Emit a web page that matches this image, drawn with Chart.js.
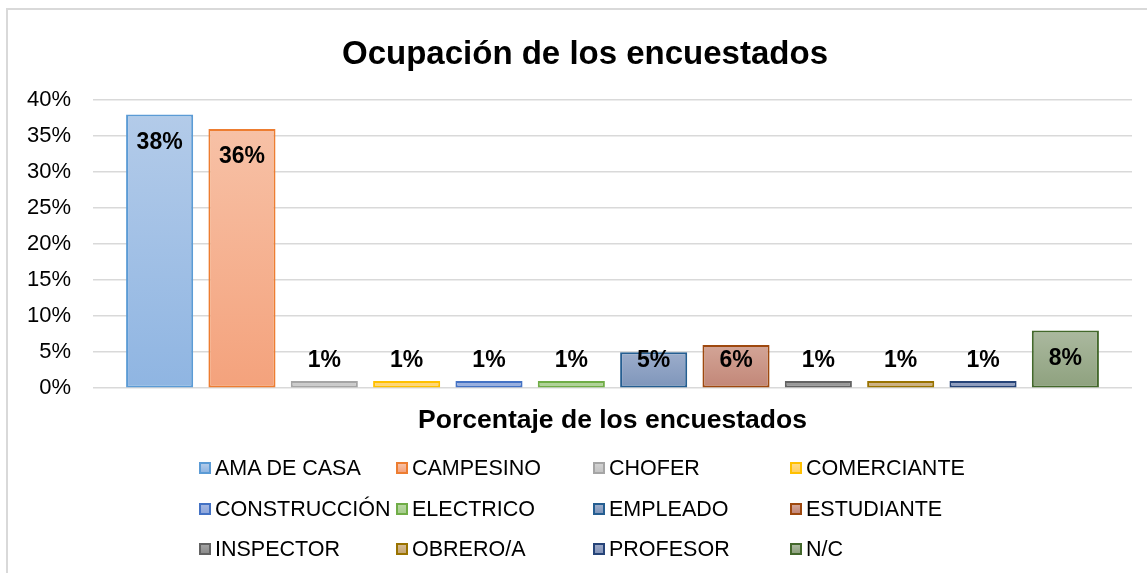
<!DOCTYPE html>
<html>
<head>
<meta charset="utf-8">
<script src="https://cdn.jsdelivr.net/npm/chart.js@4.4.1/dist/chart.umd.min.js"></script>
<style>
    html, body { margin: 0; padding: 0; background: #fff; overflow: hidden; }
    #wrap { position: relative; width: 1147px; height: 573px; overflow: hidden; }
    #frame { position: absolute; left: 6px; top: 8px; width: 1300px; height: 800px; border: 2px solid #d9d9d9; box-sizing: border-box; }
    #chartBox { position: absolute; left: 0; top: 0; width: 1147px; height: 573px; }
    #legend { position: absolute; left: 0; top: 0; width: 1147px; height: 573px; font-family: "Liberation Sans", Arial, sans-serif; font-size: 21.5px; color: #000; }
    .item { position: absolute; display: flex; align-items: center; white-space: nowrap; height: 24px; }
    .key { width: 8px; height: 8px; border: 2px solid; margin-right: 4px; }
</style>
</head>
<body>
<div id="wrap">
    <div id="frame"></div>
    <div id="chartBox"><canvas id="ocupacionChart"></canvas></div>
    <div id="legend"></div>
</div>
<script>
// Data
const categories = ['AMA DE CASA', 'CAMPESINO', 'CHOFER', 'COMERCIANTE', 'CONSTRUCCIÓN', 'ELECTRICO',
    'EMPLEADO', 'ESTUDIANTE', 'INSPECTOR', 'OBRERO/A', 'PROFESOR', 'N/C'];
const percentages = [38, 36, 1, 1, 1, 1, 5, 6, 1, 1, 1, 8];
const groupLabels = ['Porcentaje de los encuestados'];
const yMin = 0;
const yMax = 40;
const yStep = 5;

// Excel-like gradient fills: top, bottom, border
const fillTop = ['#b3cbe9', '#f7c1a6', '#d2d2d2', '#ffdb86', '#a3b6e1', '#b8d7a2', '#9cadcb', '#d3a597', '#a3a3a3', '#d4ba92', '#9aa7c7', '#abb99f'];
const fillBottom = ['#8fb5e2', '#f4a27c', '#c3c3c3', '#ffcf62', '#8da6dc', '#a6cd8c', '#7e95ba', '#c28677', '#8c8c8c', '#c5a673', '#8393b8', '#8ea17e'];
const borderColors = ['#5b9bd5', '#ed7d31', '#a5a5a5', '#ffc000', '#4472c4', '#70ad47', '#255e91', '#9e480e', '#636363', '#997300', '#264478', '#43682b'];

const FONT = '"Liberation Sans", Arial, sans-serif';

function barFill(context) {
    const chart = context.chart;
    const i = context.datasetIndex;
    if (!chart.chartArea || !chart.scales.y) {
        return fillBottom[i];
    }
    const top = chart.scales.y.getPixelForValue(context.raw);
    const base = chart.scales.y.getPixelForValue(0);
    const g = chart.ctx.createLinearGradient(0, top, 0, base);
    g.addColorStop(0, fillTop[i]);
    g.addColorStop(1, fillBottom[i]);
    return g;
}

// Data labels, "inside end" like Excel
const valueLabels = {
    id: 'valueLabels',
    afterDatasetsDraw(chart) {
        const ctx = chart.ctx;
        ctx.save();
        ctx.font = 'bold 23px ' + FONT;
        ctx.fillStyle = '#000';
        ctx.textAlign = 'center';
        ctx.textBaseline = 'middle';
        chart.data.datasets.forEach((ds, i) => {
            const bar = chart.getDatasetMeta(i).data[0];
            if (!bar) return;
            const y = Math.min(bar.y + 28, bar.base - 27);
            ctx.fillText(ds.data[0] + '%', bar.x, y);
        });
        ctx.restore();
    }
};

const datasets = categories.map((name, i) => ({
    label: name,
    data: [percentages[i]],
    backgroundColor: barFill,
    borderColor: borderColors[i],
    borderWidth: 2,
    borderSkipped: false,
    barPercentage: 0.815,
    categoryPercentage: 0.951
}));

const chart = new Chart(document.getElementById('ocupacionChart'), {
    type: 'bar',
    data: { labels: groupLabels, datasets: datasets },
    options: {
        responsive: true,
        maintainAspectRatio: false,
        animation: false,
        layout: { padding: { left: 24, right: 1, top: 0, bottom: 127 } },
        plugins: {
            legend: { display: false },
            tooltip: { enabled: false },
            title: {
                display: true,
                text: 'Ocupación de los encuestados',
                color: '#000',
                font: { family: FONT, size: 33, weight: 'bold' },
                padding: { top: 35, bottom: 25.5 }
            }
        },
        scales: {
            x: {
                grid: { display: false },
                border: { display: false },
                ticks: {
                    color: '#000',
                    padding: 9,
                    font: { family: FONT, size: 26.5, weight: 'bold' }
                }
            },
            y: {
                min: yMin,
                max: yMax,
                border: { display: false },
                grid: { color: '#d9d9d9', lineWidth: 1.5, drawTicks: false },
                afterFit(scale) { scale.width = 69; },
                ticks: {
                    stepSize: yStep,
                    padding: 22,
                    color: '#000',
                    font: { family: FONT, size: 22 },
                    callback: v => v + '%'
                }
            },
            // empty right-hand spacer so the plot ends where the reference's does
            yRight: {
                position: 'right',
                min: yMin,
                max: yMax,
                grid: { display: false },
                border: { display: false },
                ticks: { display: false },
                afterFit(scale) { scale.width = 14; }
            }
        }
    },
    plugins: [valueLabels]
});

// Legend laid out in 4 columns like the Excel chart
const legendEl = document.getElementById('legend');
const colX = [199, 396, 593, 790];
const rowY = [468, 509, 549];
categories.forEach((name, i) => {
    const item = document.createElement('div');
    item.className = 'item';
    item.style.left = colX[i % 4] + 'px';
    item.style.top = (rowY[Math.floor(i / 4)] - 12) + 'px';
    const key = document.createElement('span');
    key.className = 'key';
    key.style.borderColor = borderColors[i];
    key.style.background = 'linear-gradient(' + fillTop[i] + ', ' + fillBottom[i] + ')';
    const txt = document.createElement('span');
    txt.textContent = name;
    item.appendChild(key);
    item.appendChild(txt);
    legendEl.appendChild(item);
});
</script>
</body>
</html>
